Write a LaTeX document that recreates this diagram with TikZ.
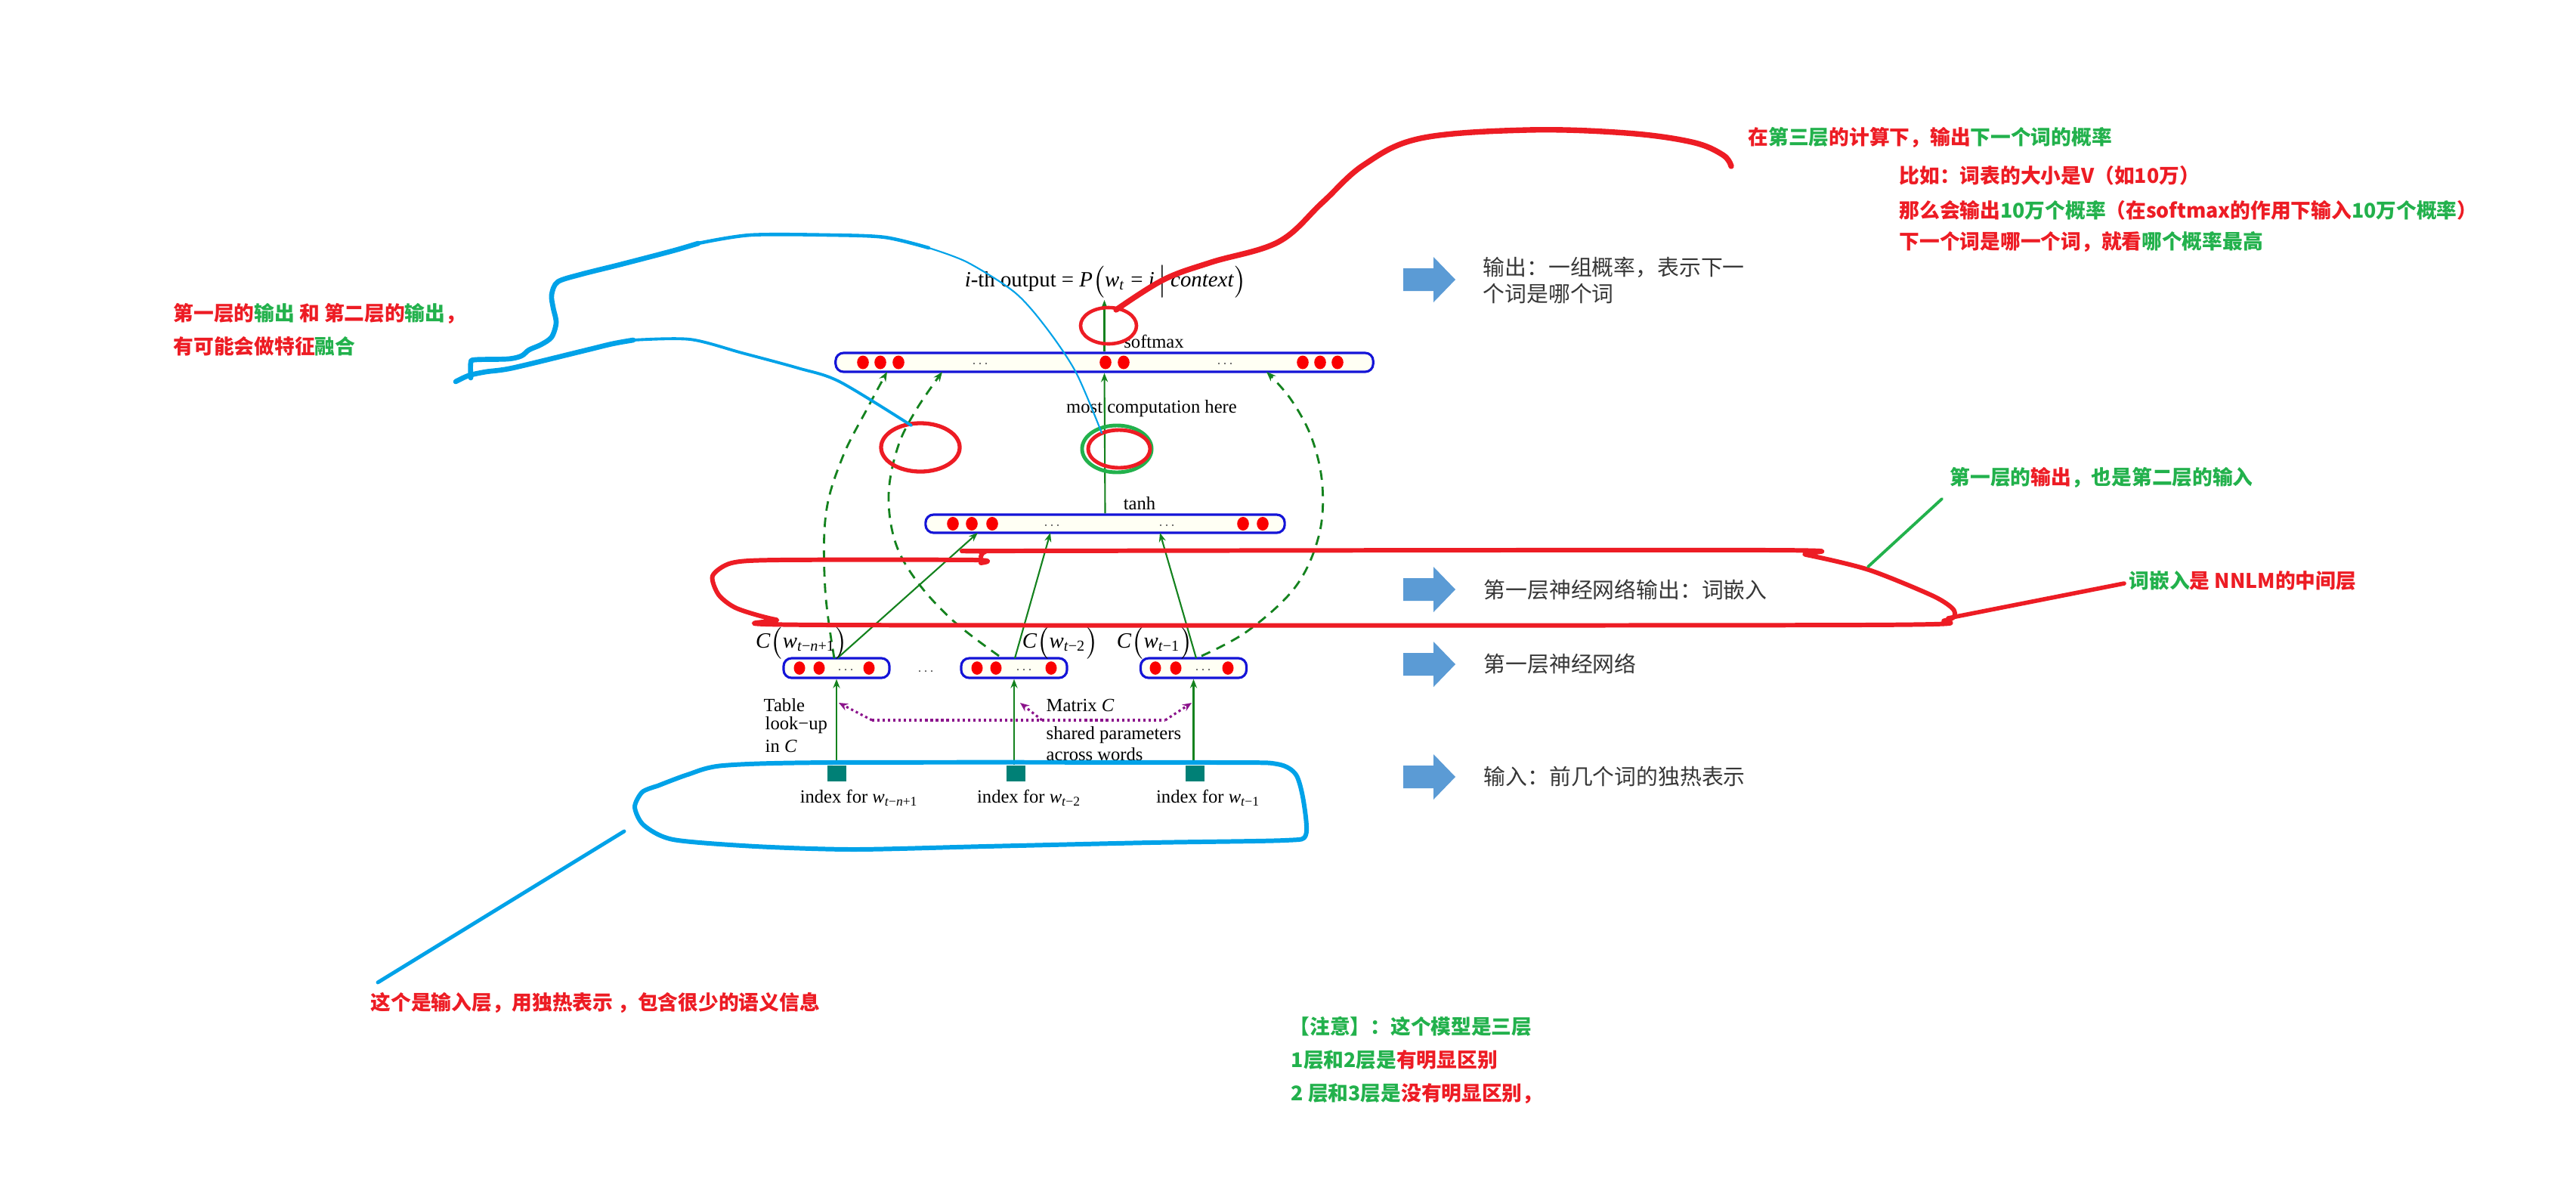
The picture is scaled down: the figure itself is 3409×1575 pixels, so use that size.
\documentclass[tikz,border=0pt]{standalone}
\usepackage{fontspec}
\setmainfont{Liberation Serif}
\newfontfamily\cjk{Noto Sans CJK SC}
\usetikzlibrary{arrows.meta}

\definecolor{pRed}{RGB}{237,28,36}
\definecolor{pGreen}{RGB}{34,177,76}
\definecolor{pBlue}{RGB}{0,162,232}
\definecolor{barBlue}{RGB}{20,20,215}
\definecolor{barFill}{RGB}{255,255,244}
\definecolor{dotRed}{RGB}{250,0,0}
\definecolor{arrGreen}{RGB}{20,130,30}
\definecolor{matPurple}{RGB}{140,20,140}
\definecolor{idxTeal}{RGB}{0,128,118}
\definecolor{blockBlue}{RGB}{91,155,213}
\definecolor{noteGray}{RGB}{55,55,55}

\newcommand\redtxt[1]{\textcolor{pRed}{#1}}
\newcommand\grntxt[1]{\textcolor{pGreen}{#1}}
\newcommand\itw[1]{\textit{w}\textsubscript{#1}}

\tikzset{
  layerbar/.style={draw=barBlue, line width=0.9pt, fill=barFill, rounded corners=3pt, inner sep=0pt},
  idxsq/.style={fill=idxTeal, inner sep=0pt, minimum width=0.25cm, minimum height=0.21cm},
  garrow/.style={draw=arrGreen, line width=0.6pt, -{Stealth[length=3.4pt,width=2.6pt]}},
  gdash/.style={draw=arrGreen, line width=0.8pt, dash pattern=on 3.6pt off 2.6pt, -{Stealth[length=3.6pt,width=2.8pt]}},
  mdot/.style={draw=matPurple, line width=0.9pt, dash pattern=on 0.9pt off 1.1pt},
  mtip/.style={mdot, -{Stealth[length=3.4pt,width=2.8pt]}},
  dtext/.style={inner sep=0pt, font=\fontsize{7}{8}\selectfont},
  clabel/.style={inner sep=0pt, font=\fontsize{8.2}{9}\selectfont},
  note/.style={inner sep=0pt, anchor=west, text=noteGray, font=\cjk\fontsize{8.2}{9}\selectfont},
  anno/.style={inner sep=0pt, anchor=west, font=\cjk\bfseries\fontsize{7.6}{9}\selectfont},
  blockarrow/.style={fill=blockBlue},
  redpen/.style={draw=pRed, line cap=round, line join=round},
  bluepen/.style={draw=pBlue, line cap=round, line join=round},
  greenpen/.style={draw=pGreen, line cap=round, line join=round}
}

\begin{document}
\begin{tikzpicture}[x=0.01cm, y=-0.01cm]
\useasboundingbox (0,0) rectangle (3409,1575);
\fill[white] (0,0) rectangle (3409,1575);

% ---------- layers ----------
\node[layerbar, minimum width=7.11cm, minimum height=0.25cm] (soft) at (1461.5,479.5) {};
\node[layerbar, minimum width=4.75cm, minimum height=0.24cm] (tanh) at (1462.5,693) {};
\node[layerbar, minimum width=1.40cm, minimum height=0.26cm] (c1) at (1107,884) {};
\node[layerbar, minimum width=1.40cm, minimum height=0.26cm] (c2) at (1342,884) {};
\node[layerbar, minimum width=1.40cm, minimum height=0.26cm] (c3) at (1579.5,884) {};

% units inside the layers
\foreach \x in {1142,1165,1189,1463,1487,1724,1747,1770}
  \fill[dotRed] (\x,479.5) ellipse [x radius=0.078cm, y radius=0.09cm];
\foreach \x in {1261,1286,1313,1645,1671}
  \fill[dotRed] (\x,693) ellipse [x radius=0.078cm, y radius=0.09cm];
\foreach \x in {1058,1084,1150,1293,1318,1391,1529,1556,1625}
  \fill[dotRed] (\x,884) ellipse [x radius=0.075cm, y radius=0.088cm];
\foreach \x/\y in {1297/481,1621/481,1392/695,1544/695,1119/886,1355/886,1592/886,1225/888}
  \foreach \d in {-8,0,8}
    \fill[black!75] ({\x+\d},\y) circle [radius=0.011cm];

% word index inputs
\node[idxsq] (i1) at (1107,1023) {};
\node[idxsq] (i2) at (1344,1023) {};
\node[idxsq] (i3) at (1581,1023) {};

% ---------- connections ----------
\draw[garrow] (i1.north) -- (c1.south);
\draw[garrow] (i2.north -| c2.south) -- (c2.south);
\draw[garrow] (i3.north -| c3.south) -- (c3.south);

\coordinate (t1) at (1294,705);
\coordinate (t2) at (1390,705);
\coordinate (t3) at (1535,705);
\coordinate (c1top) at (1108,871);
\coordinate (c2top) at (1343,871);
\coordinate (c3top) at (1583,871);
\draw[garrow] (c1top) -- (t1);
\draw[garrow] (c2top) -- (t2);
\draw[garrow] (c3top) -- (t3);

\draw[garrow] (tanh.north) -- (soft.south);
\coordinate (outtip) at (1461.5,397);
\draw[garrow] (soft.north) -- (outtip);

% direct connections to the output layer
\coordinate (s1) at (1174,492);
\coordinate (s2) at (1247,492);
\coordinate (s3) at (1676,492);
\coordinate (d1) at (1104,871);
\coordinate (d2) at (1322,868);
\coordinate (d3) at (1590,868);
\draw[gdash] plot[smooth, tension=0.6] coordinates {(d1) (1092,780) (1093,680) (1115,605) (1148,540) (s1)};
\draw[gdash] plot[smooth, tension=0.6] coordinates {(d2) (1262,822) (1214,770) (1185,718) (1176,655) (1188,592) (1212,543) (s2)};
\draw[gdash] plot[smooth, tension=0.6] coordinates {(d3) (1651,835) (1714,777) (1745,710) (1750,643) (1736,580) (1708,528) (s3)};

% shared matrix C
\coordinate (m1) at (1154,953);
\coordinate (m2) at (1379,953);
\coordinate (m3) at (1542,953);
\coordinate (mt1) at (1110,930);
\coordinate (mt2) at (1350,930);
\coordinate (mt3) at (1577,930);
\draw[mdot] (m1) -- (m3);
\draw[mtip] (m1) -- (mt1);
\draw[mtip] (m2) -- (mt2);
\draw[mtip] (m3) -- (mt3);

% ---------- diagram labels ----------
\node[clabel] (title) at (1463,372) {\textit{i}-th output = \textit{P}\big(\itw{\textit{t}} = \textit{i}\,\big|\,\textit{context}\big)};
\node[dtext] (lsoft) at (1527,452) {softmax};
\node[dtext] (lmost) at (1524,541) {most computation here};
\node[dtext] (ltanh) at (1508,666) {tanh};
\node[clabel] (lc1) at (1061,850) {\textit{C}\big(\itw{\textit{t}−\textit{n}+1}\big)};
\node[clabel] (lc2) at (1403,850) {\textit{C}\big(\itw{\textit{t}−2}\big)};
\node[clabel] (lc3) at (1528,850) {\textit{C}\big(\itw{\textit{t}−1}\big)};
\node[dtext, anchor=west] (tl1) at (1010,933) {Table};
\node[dtext, anchor=west] (tl2) at (1012,960) {look−up};
\node[dtext, anchor=west] (tl3) at (1012,987) {in \textit{C}};
\node[dtext, anchor=west] (lmat) at (1384,933) {Matrix \textit{C}};
\node[dtext, anchor=west] (lsh1) at (1384,973) {shared parameters};
\node[dtext, anchor=west] (lsh2) at (1384,998) {across words};
\node[dtext] (ix1) at (1137,1056) {index for \itw{\textit{t}−\textit{n}+1}};
\node[dtext] (ix2) at (1362,1056) {index for \itw{\textit{t}−2}};
\node[dtext] (ix3) at (1599,1056) {index for \itw{\textit{t}−1}};

% ---------- block arrows and notes ----------
\foreach \y in {370,780,879,1028}
  \fill[blockarrow] (1857,\y) ++(0,-15) -- ++(40,0) -- ++(0,-15) -- ++(29,30)
        -- ++(-29,30) -- ++(0,-15) -- ++(-40,0) -- cycle;
\node[note] (n1a) at (1962,354) {输出：一组概率，表示下一};
\node[note] (n1b) at (1962,389) {个词是哪个词};
\node[note] (n2) at (1963,780) {第一层神经网络输出：词嵌入};
\node[note] (n3) at (1963,878) {第一层神经网络};
\node[note] (n4) at (1963,1028) {输入：前几个词的独热表示};

% ---------- hand-drawn marks ----------
\draw[redpen, line width=1.3pt] (1467,431) ellipse [x radius=0.37cm, y radius=0.24cm];
\draw[redpen, line width=1.5pt] (1218,592) ellipse [x radius=0.52cm, y radius=0.32cm];
\draw[greenpen, line width=1.4pt] (1478,594) ellipse [x radius=0.46cm, y radius=0.31cm];
\draw[redpen, line width=1.4pt] (1481,594) ellipse [x radius=0.41cm, y radius=0.25cm];

% stroke from the output unit to the top note
\draw[redpen, line width=2.1pt] plot[smooth, tension=0.6] coordinates {(1477,410) (1540,370) (1603,347) (1692,320) (1750,268) (1805,218) (1880,183) (2022,172) (2152,176) (2239,188) (2280,205) (2291,220)};

% loop round the embedding row
\draw[redpen, line width=1.7pt] plot[smooth, tension=0.45] coordinates {(1298,737) (1304,730) (1340,729) (2343,728) (2390,734) (2473,754) (2559,789) (2586,808) (2574,821) (2462,827) (1095,827) (1027,820) (975,805) (951,787) (943,762) (968,745) (1030,741) (1290,741) (1298,745)};
\draw[redpen, line width=1.6pt] (2578,818) -- (2811,772);
\draw[greenpen, line width=1.1pt] (2472,750) -- (2570,660);

% stroke from the first two layers to the left note
\draw[bluepen, line width=0.6pt] plot[smooth, tension=0.5] coordinates {(1458,573) (1424,493) (1384,433) (1343,387) (1280,347) (1229,328)};
\draw[bluepen, line width=1.3pt] plot[smooth, tension=0.5] coordinates {(1229,328) (1171,314) (1097,311) (993,311) (924,322)};
\draw[bluepen, line width=1.9pt] plot[smooth, tension=0.5] coordinates {(924,322) (890,332) (821,350) (769,363) (738,373) (730,390) (732,407) (736,427) (730,446) (716,456) (700,463) (690,471) (672,475) (629,476) (623,480) (623,500)};
\draw[bluepen, line width=1.9pt] plot[smooth, tension=0.5] coordinates {(603,505) (620,497) (643,492) (678,487) (769,465) (810,455) (838,450)};
\draw[bluepen, line width=1.1pt] plot[smooth, tension=0.5] coordinates {(838,450) (913,449) (982,467) (1056,487) (1111,505) (1206,563)};

% loop round the input row
\draw[bluepen, line width=1.7pt] plot[smooth, tension=0.45] coordinates {(870,1040) (910,1025) (957,1013) (1100,1009) (1613,1009) (1690,1011) (1715,1025) (1725,1060) (1728,1105) (1700,1112) (1522,1115) (1304,1120) (1130,1124) (1000,1120) (891,1111) (852,1092) (840,1068) (850,1048) (870,1040)};
\draw[bluepen, line width=1.4pt] (500,1300) -- (826,1100);

% ---------- annotations ----------
\node[anno] (a1) at (2313,182) {\redtxt{在}\grntxt{第三层}\redtxt{的计算下，输出}\grntxt{下一个词的概率}};
\node[anno] (a2) at (2513,232) {\redtxt{比如：词表的大小是V（如10万）}};
\node[anno] (a3) at (2513,278) {\redtxt{那么会输出}\grntxt{10万个概率}\redtxt{（在softmax的作用下输入}\grntxt{10万个概率}\redtxt{）}};
\node[anno] (a4) at (2513,320) {\redtxt{下一个词是哪一个词，就看}\grntxt{哪个概率最高}};
\node[anno] (b1) at (229,415) {\redtxt{第一层的}\grntxt{输出}\ \redtxt{和}\ \redtxt{第二层的}\grntxt{输出}\redtxt{，}};
\node[anno] (b2) at (229,458) {\redtxt{有可能会做特征}\grntxt{融合}};
\node[anno] (g1) at (2580,632) {\grntxt{第一层的}\redtxt{输出}\grntxt{，也是第二层的输入}};
\node[anno] (r1) at (2817,768) {\grntxt{词嵌入}\redtxt{是}\ \redtxt{NNLM的中间层}};
\node[anno] (r2) at (490,1327) {\redtxt{这个是输入层，用独热表示}\ \redtxt{，包含很少的语义信息}};
\node[anno] (k1) at (1706,1358) {\grntxt{【注意】：这个模型是三层}};
\node[anno] (k2) at (1708,1402) {\grntxt{1层和2层是}\redtxt{有明显区别}};
\node[anno] (k3) at (1708,1447) {\grntxt{2}\ \grntxt{层和3层是}\redtxt{没有明显区别，}};
\end{tikzpicture}
\end{document}
